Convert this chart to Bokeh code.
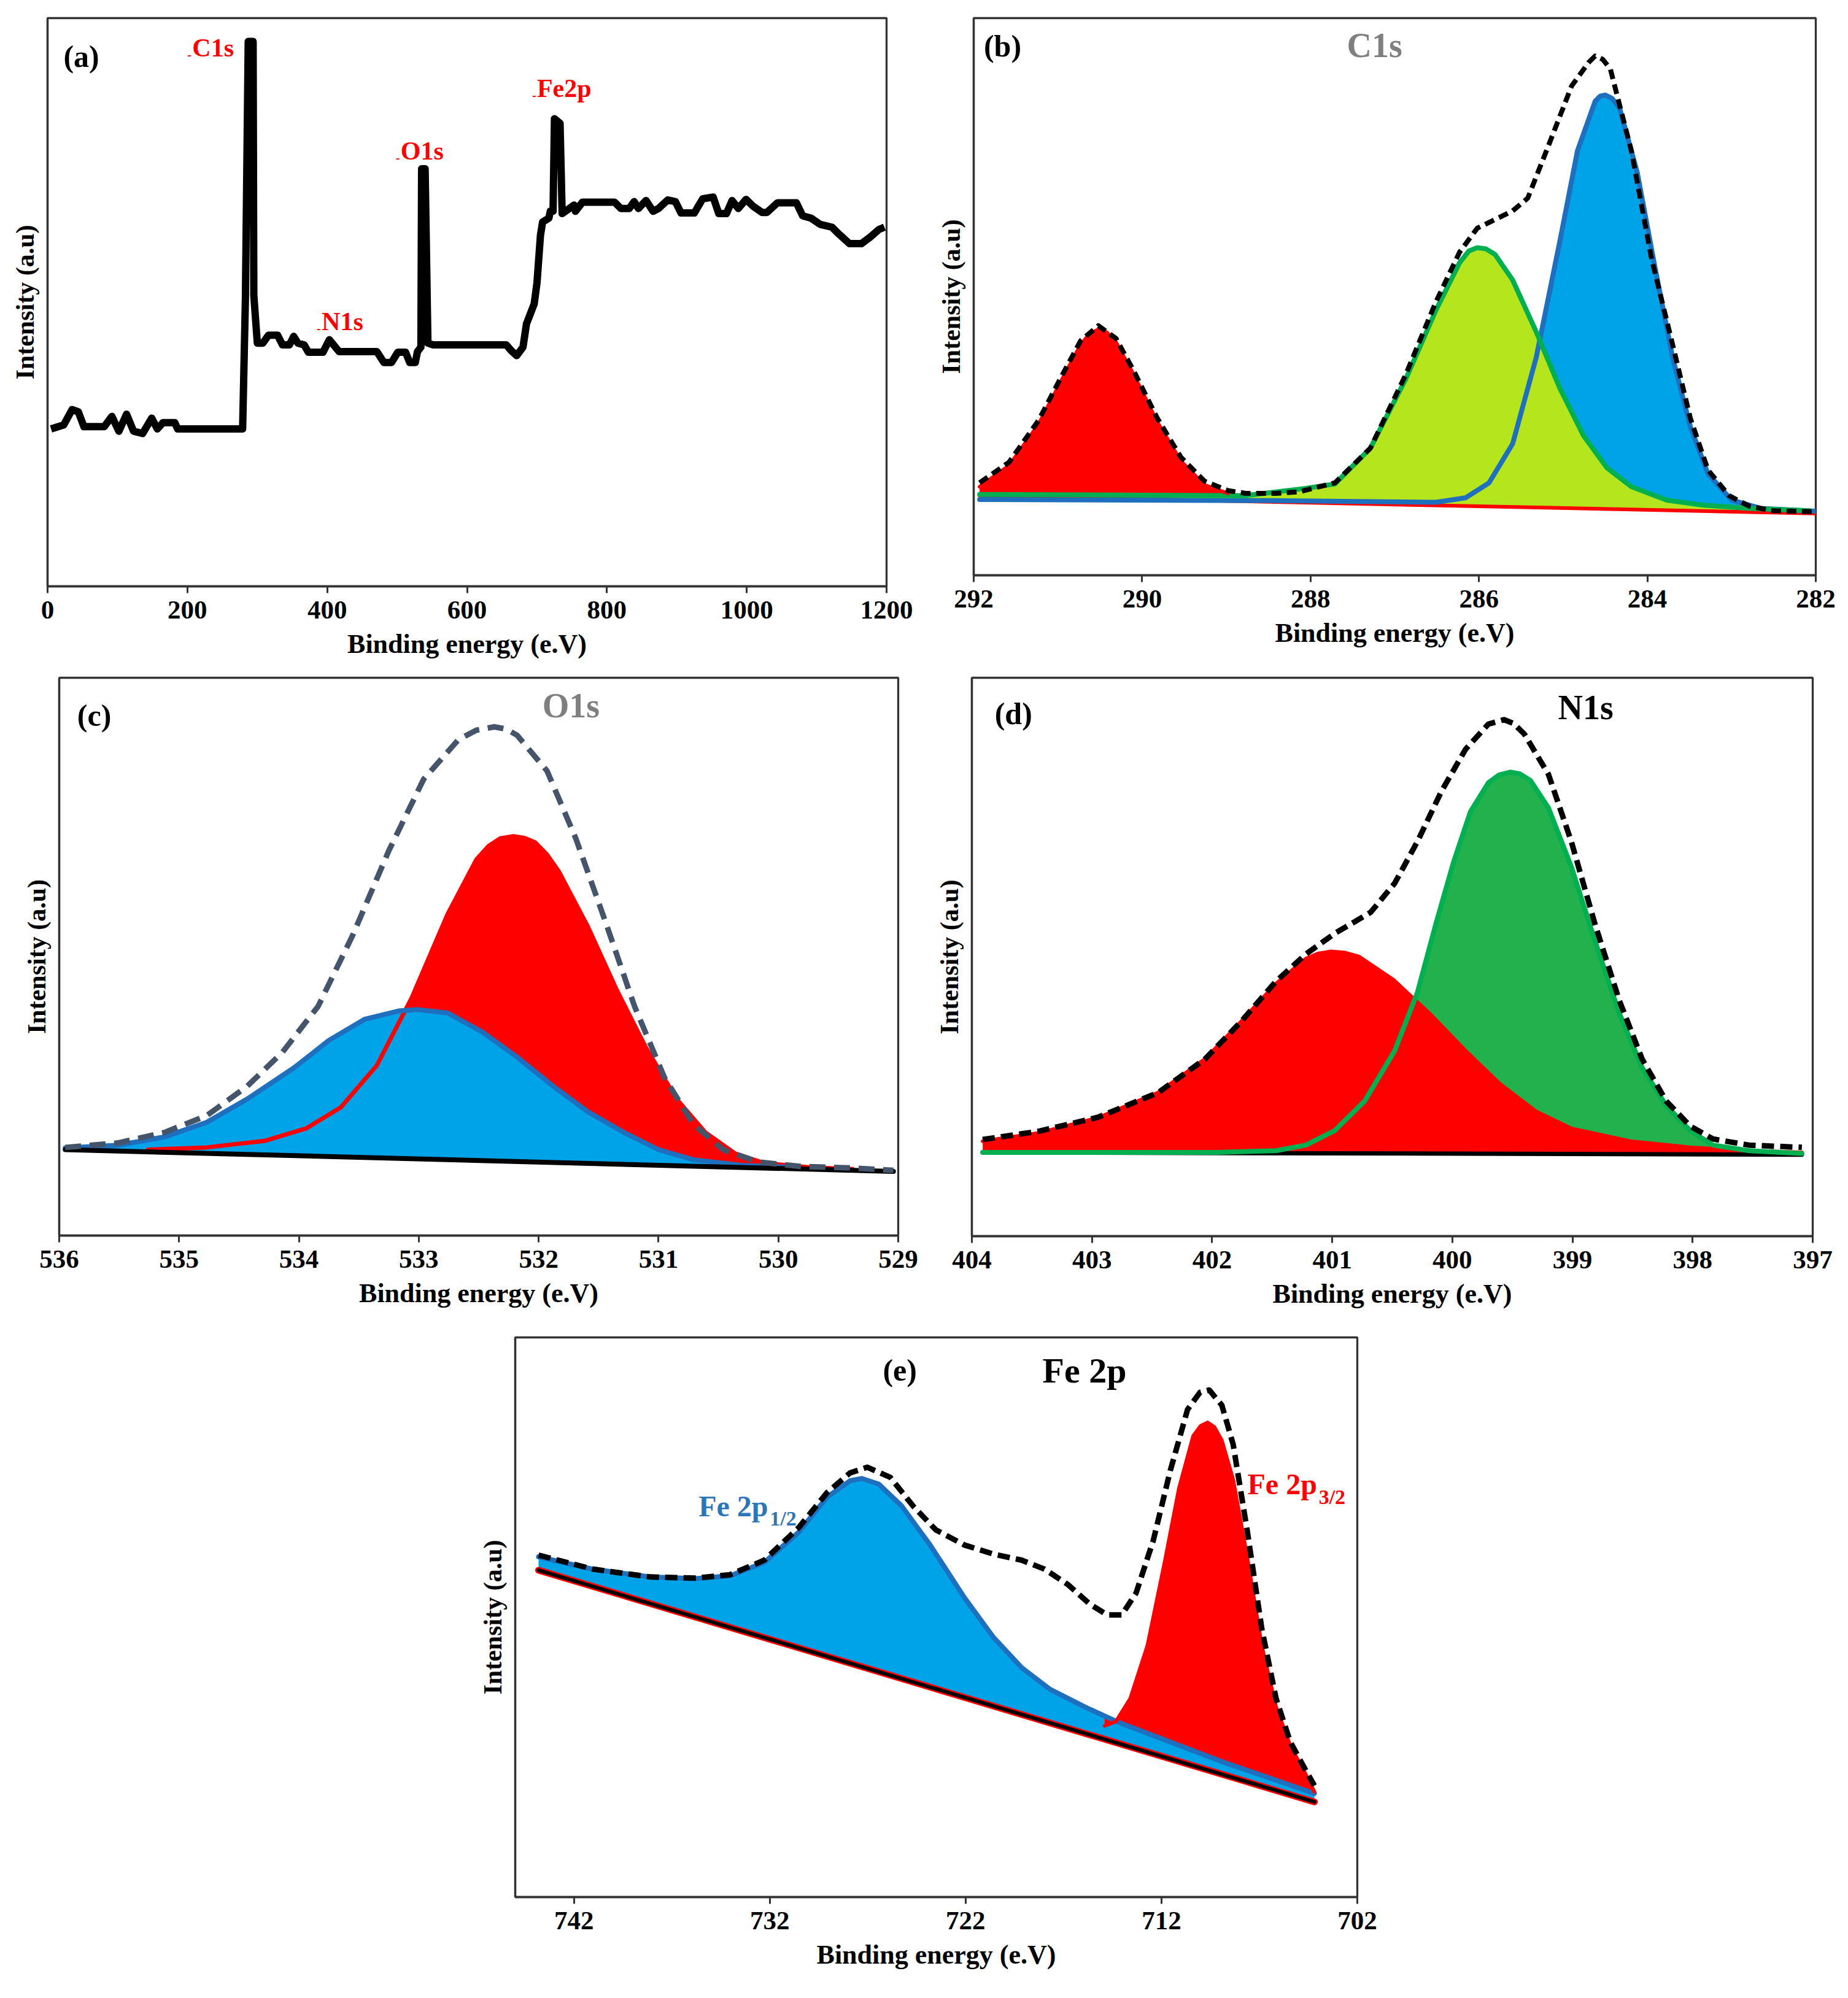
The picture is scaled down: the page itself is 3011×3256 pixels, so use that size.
import numpy as np
from bokeh.core.properties import value
from bokeh.embed import file_html
from bokeh.layouts import column, row
from bokeh.models import FixedTicker, Range1d, Spacer
from bokeh.plotting import figure
from bokeh.resources import INLINE

FONT = "Liberation Serif"

# ---------------- (a) survey spectrum
survey_be = [5, 23, 35, 44, 52, 81, 92, 102, 113, 123, 136, 149, 157, 165, 182, 186, 279, 283, 287, 294,
             295, 300, 308, 316, 329, 336, 346, 352, 358, 367, 373, 394, 403, 417, 471, 481, 492, 501, 512, 518,
             526, 529, 534, 535, 540, 544, 551, 656, 663, 671, 680, 685, 696, 700, 705, 708, 717, 719, 723, 725,
             733, 736, 744, 753, 755, 765, 811, 820, 832, 839, 845, 856, 866, 874, 887, 898, 906, 925, 937, 952,
             960, 971, 979, 988, 999, 1009, 1022, 1029, 1044, 1071, 1080, 1092, 1105, 1122, 1130, 1147, 1164, 1176, 1189, 1197]
survey_int = [27.7, 28.4, 31.1, 30.7, 28.1, 28.1, 29.9, 27.3, 30.3, 27.3, 26.9, 29.6, 27.7, 28.8, 28.8, 27.7, 27.7, 50.8, 95.9, 95.9,
              51.2, 42.8, 42.8, 44.2, 44.2, 42.5, 42.5, 44.0, 42.8, 42.5, 41.2, 41.2, 43.4, 41.3, 41.3, 39.4, 39.4, 41.2, 41.2, 39.4,
              39.4, 41.3, 42.1, 73.5, 73.5, 42.8, 42.5, 42.5, 41.5, 40.6, 42.1, 46.2, 49.7, 53.4, 61.8, 64.1, 64.8, 66.0, 66.0, 82.3,
              81.5, 65.6, 66.3, 67.1, 66.0, 67.6, 67.6, 66.5, 66.5, 67.7, 66.5, 67.9, 66.0, 66.5, 68.0, 67.7, 65.7, 65.7, 68.2, 68.5,
              65.6, 65.6, 67.9, 66.5, 68.1, 66.9, 65.8, 65.8, 67.5, 67.5, 65.2, 64.8, 63.7, 63.2, 62.2, 60.3, 60.3, 61.4, 62.8, 63.2]
survey_peaks = ["C1s", "N1s", "O1s", "Fe2p"]
survey_peak_be = [207, 392, 505, 700]
survey_peak_int = [94.8, 46.6, 76.6, 87.6]

# ---------------- (b) C1s
b_base_x = [291.93, 282.01]
b_base_y = [14.3, 11.1]
b_red_x = [291.93, 291.58, 291.23, 290.95, 290.73, 290.62, 290.52, 290.42, 290.31, 290.10, 289.82, 289.54, 289.26, 288.98]
b_red_y = [15.9, 19.7, 27.1, 35.2, 41.4, 43.4, 44.1, 43.6, 41.8, 36.0, 27.5, 20.5, 16.2, 14.7]
b_green_x = [291.93, 288.77, 288.06, 287.71, 287.29, 286.87, 286.51, 286.23, 286.12, 286.02, 285.92, 285.81, 285.60, 285.32,
             285.04, 284.76, 284.48, 284.19, 283.77, 283.35, 282.79, 282.08]
b_green_y = [14.5, 14.3, 15.6, 16.4, 22.8, 35.2, 47.6, 56.1, 58.2, 58.8, 58.6, 57.6, 53.0, 43.7,
             33.6, 25.1, 19.3, 15.9, 13.5, 12.6, 12.0, 11.6]
b_blue_x = [291.93, 288.5, 286.51, 286.16, 285.88, 285.60, 285.32, 285.18, 285.04, 284.83, 284.62, 284.56, 284.50,
            284.42, 284.33, 284.12, 283.91, 283.70, 283.49, 283.28, 283.00, 282.65, 282.01]
b_blue_y = [13.6, 13.4, 13.1, 13.9, 16.6, 23.6, 39.1, 49.5, 59.9, 76.2, 85.1, 86.0, 86.2,
            85.6, 83.9, 72.3, 55.3, 39.1, 26.7, 18.2, 13.5, 12.0, 11.5]
b_env_x = [291.93, 291.58, 291.23, 290.95, 290.73, 290.52, 290.31, 290.10, 289.82, 289.54, 289.26, 288.98,
           288.77, 288.41, 288.13, 287.71, 287.29, 286.87, 286.51, 286.23, 286.02, 285.60, 285.42, 285.18,
           284.90, 284.70, 284.62, 284.53, 284.44, 284.19, 283.95, 283.70, 283.49, 283.28, 283.03, 282.79, 282.51, 282.01]
b_env_y = [16.6, 20.3, 27.8, 35.9, 42.1, 44.8, 42.5, 36.7, 28.2, 21.2, 16.9, 15.2,
           14.7, 14.7, 15.0, 16.6, 22.8, 36.0, 49.1, 58.0, 62.3, 65.4, 67.7, 76.9,
           87.8, 92.0, 93.2, 92.6, 90.9, 76.2, 56.8, 41.4, 28.2, 18.9, 14.3, 12.4, 11.6, 11.4]

# ---------------- (c) O1s
c_base_x = [535.95, 529.04]
c_base_y = [15.4, 11.5]
c_blue_x = [535.95, 535.51, 535.12, 534.77, 534.43, 534.04, 533.75, 533.45, 533.16, 533.01,
            532.76, 532.47, 532.18, 531.88, 531.59, 531.29, 531.00, 530.71, 530.31, 529.87]
c_blue_y = [15.7, 16.2, 17.7, 20.3, 24.5, 30.1, 35.0, 38.8, 40.3, 40.5,
            39.9, 36.5, 32.0, 26.8, 22.2, 18.5, 15.4, 13.6, 12.6, 12.2]
c_red_x = [535.26, 534.77, 534.28, 533.94, 533.65, 533.35, 533.06, 532.76, 532.52, 532.42, 532.32, 532.21,
           532.12, 532.03, 531.93, 531.83, 531.59, 531.35, 531.10, 530.85, 530.61, 530.36, 530.12, 529.73, 529.38]
c_red_y = [15.4, 15.8, 17.0, 19.2, 23.0, 30.5, 42.6, 57.6, 67.4, 69.8, 71.2, 71.6,
           71.3, 70.5, 68.3, 65.2, 55.4, 44.1, 33.5, 24.5, 18.5, 14.7, 13.0, 12.2, 11.9]
c_env_x = [535.95, 535.51, 535.12, 534.77, 534.43, 534.14, 533.84, 533.55, 533.25, 532.96, 532.67, 532.52, 532.37,
           532.27, 532.18, 531.93, 531.69, 531.44, 531.20, 530.95, 530.71, 530.46, 530.17, 529.82, 529.38, 529.04]
c_env_y = [15.8, 16.6, 18.5, 21.5, 26.8, 32.8, 41.1, 53.9, 69.0, 81.8, 88.9, 90.6, 91.2,
           90.8, 89.7, 83.3, 71.2, 56.1, 41.1, 28.3, 20.0, 15.4, 13.2, 12.4, 12.1, 11.7]

# ---------------- (d) N1s
d_base_x = [403.91, 397.09]
d_base_y = [15.0, 14.6]
d_red_x = [403.91, 403.44, 402.95, 402.45, 402.06, 401.76, 401.47, 401.22, 401.12, 401.01, 400.90, 400.78,
           400.49, 400.19, 399.89, 399.60, 399.30, 399.01, 398.52, 398.02, 397.53, 397.09]
d_red_y = [17.0, 18.5, 21.2, 25.7, 31.7, 38.4, 45.2, 49.7, 50.6, 51.0, 50.8, 50.1,
           45.9, 39.9, 33.2, 27.2, 22.3, 19.3, 17.0, 15.9, 15.3, 15.0]
d_green_x = [403.91, 401.96, 401.47, 401.22, 400.98, 400.73, 400.48, 400.29, 400.14, 399.99, 399.85, 399.70,
             399.61, 399.52, 399.44, 399.35, 399.20, 399.01, 398.81, 398.61, 398.42, 398.22, 398.02, 397.83,
             397.53, 397.09]
d_green_y = [15.0, 15.0, 15.3, 16.3, 18.9, 24.2, 33.2, 43.7, 55.7, 67.0, 76.0, 81.2,
             82.6, 83.1, 82.8, 81.6, 76.7, 66.2, 52.7, 39.9, 30.2, 23.4, 18.9, 16.3,
             15.3, 14.8]
d_env_x = [403.91, 403.44, 402.95, 402.45, 402.06, 401.76, 401.47, 401.22, 400.98, 400.68, 400.48, 400.29, 400.09, 399.89,
           399.70, 399.57, 399.49, 399.40, 399.20, 399.01, 398.81, 398.61, 398.42, 398.22, 398.02, 397.83, 397.53, 397.09]
d_env_y = [17.3, 18.8, 21.3, 25.7, 31.7, 38.4, 45.6, 50.5, 54.2, 58.0, 63.2, 70.7, 79.7, 87.2,
           91.7, 92.5, 91.8, 89.9, 82.7, 70.7, 55.7, 42.2, 31.7, 24.2, 19.7, 17.4, 16.3, 15.9]

# ---------------- (e) Fe 2p
e_base_x = [743.81, 704.19]
e_base_y = [58.4, 17.0]
e_blue_x = [743.81, 741.04, 738.12, 735.78, 734.03, 732.28, 730.53, 729.07, 727.90, 727.31, 726.44, 725.27,
            723.81, 722.06, 720.60, 719.14, 717.68, 715.93, 714.18, 711.84, 708.92, 706.00, 704.19]
e_blue_y = [60.8, 58.6, 57.2, 56.9, 57.4, 59.8, 65.2, 71.5, 74.4, 74.8, 73.8, 69.9,
            62.9, 53.5, 46.5, 41.0, 37.1, 34.0, 31.2, 28.1, 24.2, 20.7, 18.5]
e_red_x = [714.90, 714.32, 713.59, 712.72, 711.84, 711.11, 710.38, 710.00, 709.65, 709.30, 708.92, 708.34,
           707.61, 706.88, 706.15, 705.42, 704.69, 704.19]
e_red_y = [30.6, 31.4, 35.5, 44.9, 59.8, 73.0, 82.4, 84.2, 84.8, 84.0, 81.6, 74.6,
           60.5, 44.9, 34.0, 27.0, 22.3, 18.8]
e_env_x = [743.81, 741.04, 738.12, 735.78, 734.03, 732.28, 730.53, 729.07, 727.90, 727.02, 725.85, 724.69,
           723.52, 722.06, 720.60, 719.14, 717.97, 716.80, 715.64, 714.76, 714.03, 713.30, 712.42, 711.55,
           710.67, 710.03, 709.56, 708.92, 708.34, 707.61, 706.88, 706.15, 705.42, 704.69, 704.19]
e_env_y = [61.1, 58.6, 57.2, 57.0, 57.6, 60.2, 66.0, 72.3, 75.8, 76.8, 75.0, 69.9,
           65.6, 62.9, 61.3, 60.2, 58.6, 55.9, 52.3, 50.4, 50.4, 54.3, 63.7, 76.2,
           87.1, 90.2, 90.6, 87.9, 80.9, 65.2, 48.0, 35.5, 27.7, 23.0, 19.9]

RED = "#FF0000"
LIME = "#B5E61D"
SKY = "#00A2E8"
BLUE_LINE = "#1F6FBF"
GREEN_LINE = "#00B050"
GREEN_FILL = "#22B14C"


def panel(x0, x1, ticks, fw, fh, left, right, top, bottom):
    p = figure(x_range=Range1d(x0, x1), y_range=Range1d(0, 100),
               frame_width=fw, frame_height=fh,
               min_border_left=left, min_border_right=right,
               min_border_top=top, min_border_bottom=bottom,
               output_backend="svg", toolbar_location=None)
    p.background_fill_color = "white"
    p.border_fill_color = "white"
    p.outline_line_color = "#333333"
    p.outline_line_width = 3.3
    p.xgrid.visible = False
    p.ygrid.visible = False

    xa = p.xaxis[0]
    xa.ticker = FixedTicker(ticks=ticks)
    xa.minor_tick_line_color = None
    xa.major_tick_in = 0
    xa.major_tick_out = 11
    xa.major_tick_line_width = 3
    xa.major_tick_line_color = "#333333"
    xa.axis_line_width = 3.3
    xa.axis_line_color = "#333333"
    xa.major_label_standoff = 13
    xa.major_label_text_font = FONT
    xa.major_label_text_font_style = "bold"
    xa.major_label_text_font_size = "43px"
    xa.major_label_text_color = "black"
    xa.axis_label = "Binding energy (e.V)"
    xa.axis_label_text_font = FONT
    xa.axis_label_text_font_style = "bold"
    xa.axis_label_text_font_size = "44px"
    xa.axis_label_text_color = "black"
    xa.axis_label_standoff = 14

    ya = p.yaxis[0]
    ya.ticker = FixedTicker(ticks=[])
    ya.major_tick_out = 0
    ya.major_tick_in = 0
    ya.minor_tick_line_color = None
    ya.major_label_standoff = 0
    ya.axis_line_width = 3.3
    ya.axis_line_color = "#333333"
    ya.axis_label = "Intensity (a.u)"
    ya.axis_label_text_font = FONT
    ya.axis_label_text_font_style = "bold"
    ya.axis_label_text_font_size = "42px"
    ya.axis_label_text_color = "black"
    ya.axis_label_standoff = 14
    return p


def note(p, x, y, txt, size, color="black", align="left"):
    p.text(x=[x], y=[y], text=[txt], text_font=value(FONT), text_font_style="bold",
           text_font_size=size, text_color=color, text_align=align, text_baseline="middle")


def under(xs, bx, by):
    bx = np.asarray(bx, dtype=float)
    by = np.asarray(by, dtype=float)
    order = np.argsort(bx)
    return np.interp(np.asarray(xs, dtype=float), bx[order], by[order])


def fill(p, xs, ys, bx, by, color):
    xs = np.asarray(xs, dtype=float)
    p.varea(x=xs, y1=under(xs, bx, by), y2=np.asarray(ys, dtype=float), fill_color=color)


def curve(p, xs, ys, color, width):
    p.line(xs, ys, line_color=color, line_width=width, line_join="round", line_cap="round")


# ---------------- panel (a)
pa = panel(0, 1200, list(range(0, 1201, 200)), 1367, 926, 77, 50, 25, 141)
pa.line(survey_be, survey_int, line_color="black", line_width=12, line_join="round")
note(pa, 22.8, 93.2, "(a)", "50px")
for name, bx, by in zip(survey_peaks, survey_peak_be, survey_peak_int):
    note(pa, bx - 7, by - 1.2, "-", "20px", RED)
    note(pa, bx, by, name, "42px", RED)

# ---------------- panel (b)
pb = panel(292, 282, list(range(292, 281, -2)), 1372, 908, 92, 40, 29, 155)
fill(pb, b_red_x, b_red_y, b_base_x, b_base_y, RED)
fill(pb, b_blue_x, b_blue_y, b_base_x, b_base_y, SKY)
fill(pb, b_green_x, b_green_y, b_base_x, b_base_y, LIME)
curve(pb, b_base_x, b_base_y, RED, 6)
curve(pb, b_blue_x, b_blue_y, BLUE_LINE, 8)
curve(pb, b_green_x, b_green_y, GREEN_LINE, 8)
curve(pb, b_red_x, b_red_y, RED, 6)
pb.line(b_env_x, b_env_y, line_color="black", line_width=8, line_dash="16 9", line_join="round")
note(pb, 291.88, 95.0, "(b)", "50px")
note(pb, 287.24, 95.1, "C1s", "56px", "#7F7F7F", "center")

# ---------------- panel (c)
pc = panel(536, 529, list(range(536, 528, -1)), 1367, 909, 96, 50, 12, 142)
fill(pc, c_red_x, c_red_y, c_base_x, c_base_y, RED)
fill(pc, c_blue_x, c_blue_y, c_base_x, c_base_y, SKY)
curve(pc, c_red_x, c_red_y, RED, 7)
curve(pc, c_blue_x, c_blue_y, BLUE_LINE, 8)
curve(pc, c_base_x, c_base_y, "black", 8)
pc.line(c_env_x, c_env_y, line_color="#44546A", line_width=9, line_dash="26 14", line_join="round")
note(pc, 535.85, 93.2, "(c)", "50px")
note(pc, 531.73, 95.0, "O1s", "56px", "#7F7F7F", "center")

# ---------------- panel (d)
pd = panel(404, 397, list(range(404, 396, -1)), 1370, 910, 70, 40, 10, 143)
fill(pd, d_green_x, d_green_y, d_base_x, d_base_y, GREEN_FILL)
fill(pd, d_red_x, d_red_y, d_base_x, d_base_y, RED)
curve(pd, d_base_x, d_base_y, "black", 7)
curve(pd, d_red_x, d_red_y, RED, 6)
curve(pd, d_green_x, d_green_y, GREEN_LINE, 8)
pd.line(d_env_x, d_env_y, line_color="black", line_width=9, line_dash="20 10", line_join="round")
note(pd, 403.81, 93.6, "(d)", "50px")
note(pd, 398.89, 94.7, "N1s", "56px", "black", "center")

# ---------------- panel (e)
pe = panel(745, 702, [742, 732, 722, 712, 702], 1372, 912, 100, 40, 24, 145)
fill(pe, e_blue_x, e_blue_y, e_base_x, e_base_y, SKY)
fill(pe, e_red_x, e_red_y, e_blue_x, e_blue_y, RED)
curve(pe, e_base_x, e_base_y, RED, 11)
curve(pe, e_base_x, e_base_y, "black", 6)
curve(pe, e_blue_x, e_blue_y, BLUE_LINE, 8)
curve(pe, e_red_x, e_red_y, RED, 6)
pe.line(e_env_x, e_env_y, line_color="black", line_width=9, line_dash="20 10", line_join="round")
note(pe, 725.36, 94.1, "(e)", "50px", "black", "center")
note(pe, 715.93, 94.1, "Fe 2p", "58px", "black", "center")
note(pe, 735.64, 69.9, "Fe 2p", "48px", "#2E75B6")
note(pe, 732.0, 67.6, "1/2", "34px", "#2E75B6")
note(pe, 707.61, 73.8, "Fe 2p", "48px", RED)
note(pe, 703.97, 71.5, "3/2", "34px", RED)

layout = column(row(pa, pb), row(pc, pd), row(Spacer(width=739, height=10), pe))

open("out.html", "w").write(file_html(layout, INLINE))
